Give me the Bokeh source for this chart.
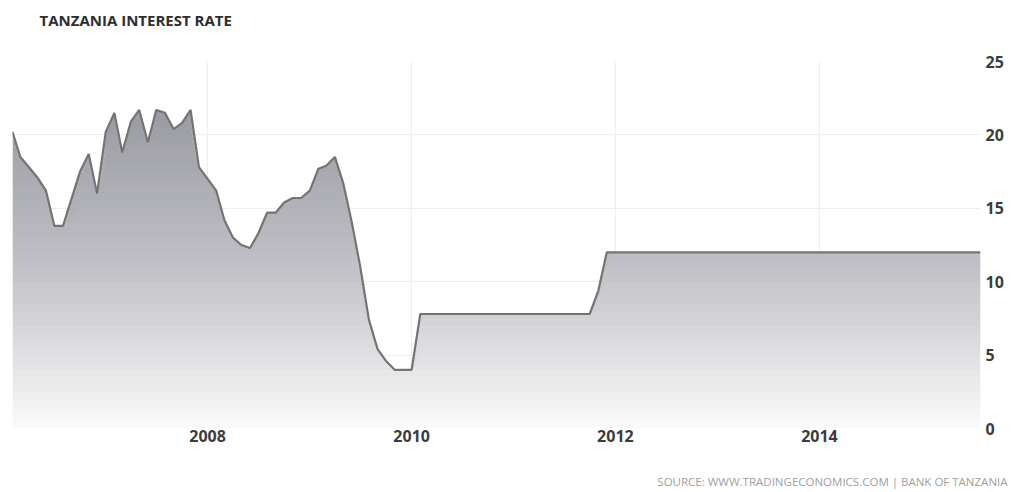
import numpy as np
import pandas as pd
from bokeh.plotting import figure
from bokeh.models import Range1d, FixedTicker, DatetimeTickFormatter, Title
from bokeh.embed import file_html
from bokeh.resources import INLINE

# ---- data ----
months = ["2006-02", "2006-03", "2006-04", "2006-05", "2006-06", "2006-07", "2006-08",
          "2006-10", "2006-11", "2006-12",
          "2007-01", "2007-02", "2007-03", "2007-04", "2007-05", "2007-06", "2007-07",
          "2007-08", "2007-09", "2007-10", "2007-11", "2007-12",
          "2008-01", "2008-02", "2008-03", "2008-04", "2008-05", "2008-06", "2008-07",
          "2008-08", "2008-09", "2008-10", "2008-11", "2008-12",
          "2009-01", "2009-02", "2009-03", "2009-04", "2009-05", "2009-06", "2009-07",
          "2009-08", "2009-09", "2009-10", "2009-11", "2009-12",
          "2010-01", "2010-02", "2011-10", "2011-11", "2011-12", "2015-08"]
rates = [20.2, 18.5, 17.8, 17.1, 16.2, 13.8, 13.8,
         17.5, 18.7, 16.0,
         20.2, 21.5, 18.8, 20.9, 21.7, 19.5, 21.7,
         21.5, 20.4, 20.8, 21.7, 17.8,
         17.0, 16.2, 14.2, 13.0, 12.5, 12.3, 13.3,
         14.7, 14.7, 15.4, 15.7, 15.7,
         16.2, 17.7, 17.9, 18.5, 16.7, 14.0, 11.0,
         7.4, 5.4, 4.6, 4.0, 4.0,
         4.0, 7.8, 7.8, 9.4, 12.0, 12.0]
tick_years = [2008, 2010, 2012, 2014]
y_ticks = [0, 5, 10, 15, 20, 25]
title_text = "TANZANIA INTEREST RATE"
source_text = "SOURCE: WWW.TRADINGECONOMICS.COM  |  BANK OF TANZANIA"

dates = pd.to_datetime(months)
vals = np.array(rates)

p = figure(width=1008, height=490, x_axis_type="datetime", y_axis_location="right",
           output_backend="svg", toolbar_location=None,
           x_range=Range1d(dates[0], dates[-1]), y_range=Range1d(0, 25),
           min_border_left=12, min_border_right=28, min_border_top=61, min_border_bottom=62)
p.background_fill_color = "white"
p.border_fill_color = "white"
p.outline_line_color = None

# gradient fill built from horizontal bands of the area
top = 21.7
edges = np.linspace(0, 22.5, 46)
def band_color(v):
    t = min(max(v / top, 0.0), 1.0)
    if t < 0.5:
        s = t / 0.5
        c0, c1 = (251, 251, 251), (193, 193, 199)
    else:
        s = (t - 0.5) / 0.5
        c0, c1 = (193, 193, 199), (154, 154, 161)
    r, g, b = [int(round(a + (bb - a) * s)) for a, bb in zip(c0, c1)]
    return "#%02x%02x%02x" % (r, g, b)

for k in range(len(edges) - 1):
    a, b = edges[k], edges[k + 1]
    y1 = np.minimum(vals, a)
    y2 = np.minimum(vals, b + 0.08)
    p.varea(x=dates, y1=y1, y2=y2, fill_color=band_color((a + b) / 2))

p.line(dates, vals, line_color="#747474", line_width=2.2)

# axes
xt = [pd.Timestamp(f"{y}-01-01").value // 10**6 for y in tick_years]
p.xaxis.ticker = FixedTicker(ticks=xt)
p.xaxis.formatter = DatetimeTickFormatter(years="%Y", months="%Y", days="%Y", hours="%Y")
p.yaxis.ticker = FixedTicker(ticks=y_ticks)
for ax in (p.xaxis[0], p.yaxis[0]):
    ax.axis_line_color = None
    ax.major_tick_line_color = None
    ax.minor_tick_line_color = None
    ax.major_tick_out = 0
    ax.major_tick_in = 0
    ax.major_label_text_font = "Open Sans"
    ax.major_label_text_font_style = "bold"
    ax.major_label_text_font_size = "16px"
    ax.major_label_text_color = "#3c3c3c"
p.xaxis.major_label_standoff = 1
p.yaxis.major_label_standoff = 5

p.xgrid.ticker = FixedTicker(ticks=xt)
p.ygrid.ticker = FixedTicker(ticks=y_ticks)
p.grid.grid_line_color = "#eeeeee"
p.grid.grid_line_width = 1

# title and source (blank lines used to place them in the margins)
p.add_layout(Title(text=title_text + "\n", align="left", offset=27, standoff=0,
                   text_font="Open Sans", text_font_style="bold", text_font_size="15px",
                   text_line_height=1.6, text_color="#2e2e2e"), "above")
p.add_layout(Title(text="\n" + source_text, align="right", offset=-33, standoff=0,
                   text_font="Open Sans", text_font_style="normal", text_font_size="11.5px",
                   text_line_height=1.8, text_color="#a0a0a0"), "below")

open("out.html", "w").write(file_html(p, INLINE))
